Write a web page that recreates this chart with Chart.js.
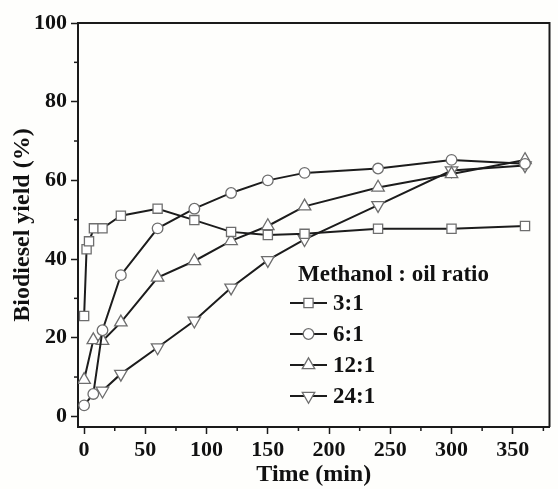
<!DOCTYPE html>
<html>
<head>
<meta charset="utf-8">
<script src="https://cdn.jsdelivr.net/npm/chart.js@4"></script>
<style>
  html, body { margin: 0; padding: 0; background: #fefefc; }
  #wrap { width: 558px; height: 489px; }
</style>
</head>
<body>
<div id="wrap"><canvas id="myChart" width="558" height="489"></canvas></div>
<script>
const ratios = ['3:1', '6:1', '12:1', '24:1'];
const markers = ['rect', 'circle', 'triangle', 'triangle'];
const rotations = [0, 0, 0, 180];

const time31 = [0, 2, 4, 8, 15, 30, 60, 90, 120, 150, 180, 240, 300, 360];
const yield31 = [25.5, 42.5, 44.5, 47.8, 47.8, 51, 52.8, 49.9, 46.9, 46.1, 46.4, 47.7, 47.7, 48.4];
const time61 = [0, 7.5, 15, 30, 60, 90, 120, 150, 180, 240, 300, 360];
const yield61 = [2.8, 5.7, 21.9, 35.9, 47.8, 52.8, 56.8, 60, 61.9, 63, 65.2, 64.2];
const time121 = [0, 7.5, 15, 30, 60, 90, 120, 150, 180, 240, 300, 360];
const yield121 = [9.3, 19.4, 19.2, 23.9, 35.3, 39.5, 44.6, 48.4, 53.4, 58.2, 61.6, 65.2];
const time241 = [15, 30, 60, 90, 120, 150, 180, 240, 300, 360];
const yield241 = [6.5, 10.8, 17.5, 24.3, 32.7, 39.7, 45, 53.7, 62.5, 63.8];

const xTicks = [0, 50, 100, 150, 200, 250, 300, 350];
const xMinor = [25, 75, 125, 175, 225, 275, 325, 375];
const yTicks = [0, 20, 40, 60, 80, 100];
const yMinor = [10, 30, 50, 70, 90];

const times = [time31, time61, time121, time241];
const yields = [yield31, yield61, yield121, yield241];

const serif = "'Liberation Serif', 'Times New Roman', serif";
const markerSizes = { rect: 6.5, circle: 5.3, triangle: 7.2 };

function toPoints(t, v) {
  return t.map((x, i) => ({ x: x, y: v[i] }));
}

const datasets = ratios.map((r, i) => ({
  label: r,
  data: toPoints(times[i], yields[i]),
  borderColor: '#1c1c1c',
  borderWidth: 2,
  pointStyle: markers[i],
  pointRotation: rotations[i],
  pointRadius: markerSizes[markers[i]],
  pointBackgroundColor: '#ffffff',
  pointBorderColor: '#6e6e6e',
  pointBorderWidth: 1.3,
  tension: 0
}));

// frame, minor ticks and the legend inside the plot
const extras = {
  id: 'extras',
  afterDraw(chart) {
    const c = chart.ctx;
    const a = chart.chartArea;
    const xs = chart.scales.x, ys = chart.scales.y;
    c.save();
    c.strokeStyle = '#1a1a1a';
    c.lineWidth = 2;
    c.beginPath();
    c.moveTo(a.left, a.top); c.lineTo(a.right, a.top); c.lineTo(a.right, a.bottom);
    c.stroke();
    c.lineWidth = 1.5;
    xMinor.forEach(t => {
      const px = xs.getPixelForValue(t);
      if (px > a.right) return;
      c.beginPath(); c.moveTo(px, a.bottom); c.lineTo(px, a.bottom + 4); c.stroke();
    });
    yMinor.forEach(v => {
      const py = ys.getPixelForValue(v);
      c.beginPath(); c.moveTo(a.left, py); c.lineTo(a.left - 4, py); c.stroke();
    });

    // legend
    c.fillStyle = '#111';
    c.font = 'bold 23px ' + serif;
    c.textBaseline = 'alphabetic';
    c.textAlign = 'left';
    c.fillText('Methanol : oil ratio', 298, 281);
    chart.data.datasets.forEach((ds, i) => {
      const y = 303 + i * 31;
      c.strokeStyle = '#1c1c1c';
      c.lineWidth = 2;
      c.beginPath(); c.moveTo(290, y); c.lineTo(327, y); c.stroke();
      c.fillStyle = '#ffffff';
      c.strokeStyle = '#6e6e6e';
      c.lineWidth = 1.3;
      Chart.helpers.drawPoint(c, {
        pointStyle: ds.pointStyle,
        radius: ds.pointRadius,
        rotation: ds.pointRotation,
        borderWidth: 1.3
      }, 308.5, y);
      c.fillStyle = '#111';
      c.textBaseline = 'middle';
      c.fillText(ds.label, 333, y + 1);
      c.textBaseline = 'alphabetic';
    });
    c.restore();
  }
};

const ctx = document.getElementById('myChart').getContext('2d');

new Chart(ctx, {
  type: 'line',
  data: { datasets: datasets },
  options: {
    responsive: false,
    animation: false,
    layout: { padding: { top: 23, right: 1, left: 0, bottom: 0 } },
    plugins: { legend: { display: false }, tooltip: { enabled: false } },
    scales: {
      x: {
        type: 'linear',
        min: -5,
        max: 380,
        afterBuildTicks: s => { s.ticks = xTicks.map(v => ({ value: v })); },
        afterFit: s => { s.height = 62; },
        border: { color: '#1a1a1a', width: 2 },
        grid: { drawOnChartArea: false, tickLength: 7, tickWidth: 1.5, tickColor: '#1a1a1a' },
        ticks: { color: '#111', font: { family: serif, size: 22, weight: 'bold' }, padding: 3, maxRotation: 0 },
        title: { display: true, text: 'Time (min)', color: '#111', font: { family: serif, size: 24, weight: 'bold' }, padding: { top: 0, bottom: 0 } }
      },
      y: {
        min: -2.7,
        max: 100,
        afterBuildTicks: s => { s.ticks = yTicks.map(v => ({ value: v })); },
        afterFit: s => { s.width = 78; },
        border: { color: '#1a1a1a', width: 2 },
        grid: { drawOnChartArea: false, tickLength: 7, tickWidth: 1.5, tickColor: '#1a1a1a' },
        ticks: { color: '#111', font: { family: serif, size: 22, weight: 'bold' }, padding: 4 },
        title: { display: true, text: 'Biodiesel yield (%)', color: '#111', font: { family: serif, size: 24, weight: 'bold' }, padding: { top: 8, bottom: 0 } }
      }
    }
  },
  plugins: [extras]
});
</script>
</body>
</html>
